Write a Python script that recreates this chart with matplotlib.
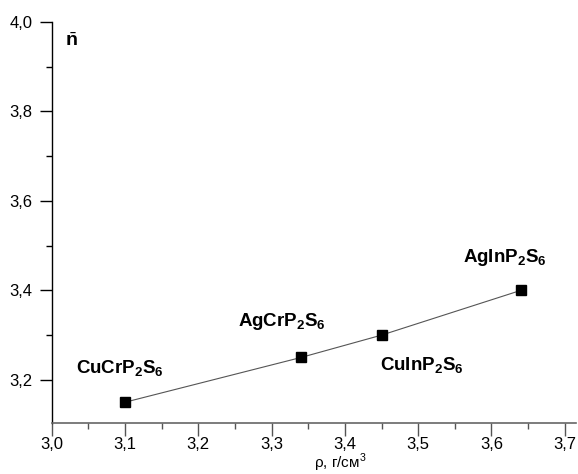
import matplotlib
matplotlib.use('Agg')
import matplotlib.pyplot as plt
from matplotlib.ticker import MultipleLocator, FuncFormatter

plt.rcParams['font.family'] = 'Liberation Sans'
plt.rcParams['mathtext.fontset'] = 'custom'
plt.rcParams['mathtext.rm'] = 'Liberation Sans'
plt.rcParams['mathtext.bf'] = 'Liberation Sans:bold'

# density (g/cm3) vs mean n
compounds = ['CuCrP_2S_6', 'AgCrP_2S_6', 'CuInP_2S_6', 'AgInP_2S_6']
rho = [3.10, 3.34, 3.45, 3.64]
n_mean = [3.15, 3.25, 3.30, 3.40]

# where each compound name sits (data coords)
label_xy = [(3.093, 3.227), (3.314, 3.330), (3.505, 3.233), (3.618, 3.473)]

fig = plt.figure(figsize=(5.78, 4.74), dpi=100)
ax = fig.add_axes([0.0894, 0.108, 0.908, 0.8456])

ax.plot(rho, n_mean, color='#555555', lw=0.8, zorder=1)
ax.plot(rho, n_mean, ls='none', marker='s', ms=7, color='black', zorder=2)

for name, (x, y) in zip(compounds, label_xy):
    ax.text(x, y, r'$\mathbf{' + name + '}$', fontsize=13.5, ha='center', va='center')

ax.set_xlim(3.0, 3.716)
ax.set_ylim(3.104, 4.0)

ax.spines['top'].set_visible(False)
ax.spines['right'].set_visible(False)
ax.spines['bottom'].set_color('#666666')
ax.spines['bottom'].set_linewidth(1.2)
ax.spines['left'].set_linewidth(1.0)

ax.xaxis.set_major_locator(MultipleLocator(0.1))
ax.xaxis.set_minor_locator(MultipleLocator(0.05))
ax.yaxis.set_major_locator(MultipleLocator(0.2))
ax.yaxis.set_minor_locator(MultipleLocator(0.1))
comma = FuncFormatter(lambda v, p: ('%.1f' % v).replace('.', ','))
ax.xaxis.set_major_formatter(comma)
ax.yaxis.set_major_formatter(comma)

ax.tick_params(which='major', direction='out', length=9, width=1, labelsize=12, pad=5)
ax.tick_params(which='minor', direction='out', length=4, width=1)
ax.tick_params(axis='x', which='both', color='#555555', pad=1)

ax.text(0.038, 0.975, r'$\bar{\mathbf{n}}$', transform=ax.transAxes,
        fontsize=14, ha='center', va='top')
ax.set_xlabel('ρ, г/см$^3$', fontsize=11)
ax.xaxis.set_label_coords(0.55, -0.071)

plt.savefig('out.png', dpi=100)
